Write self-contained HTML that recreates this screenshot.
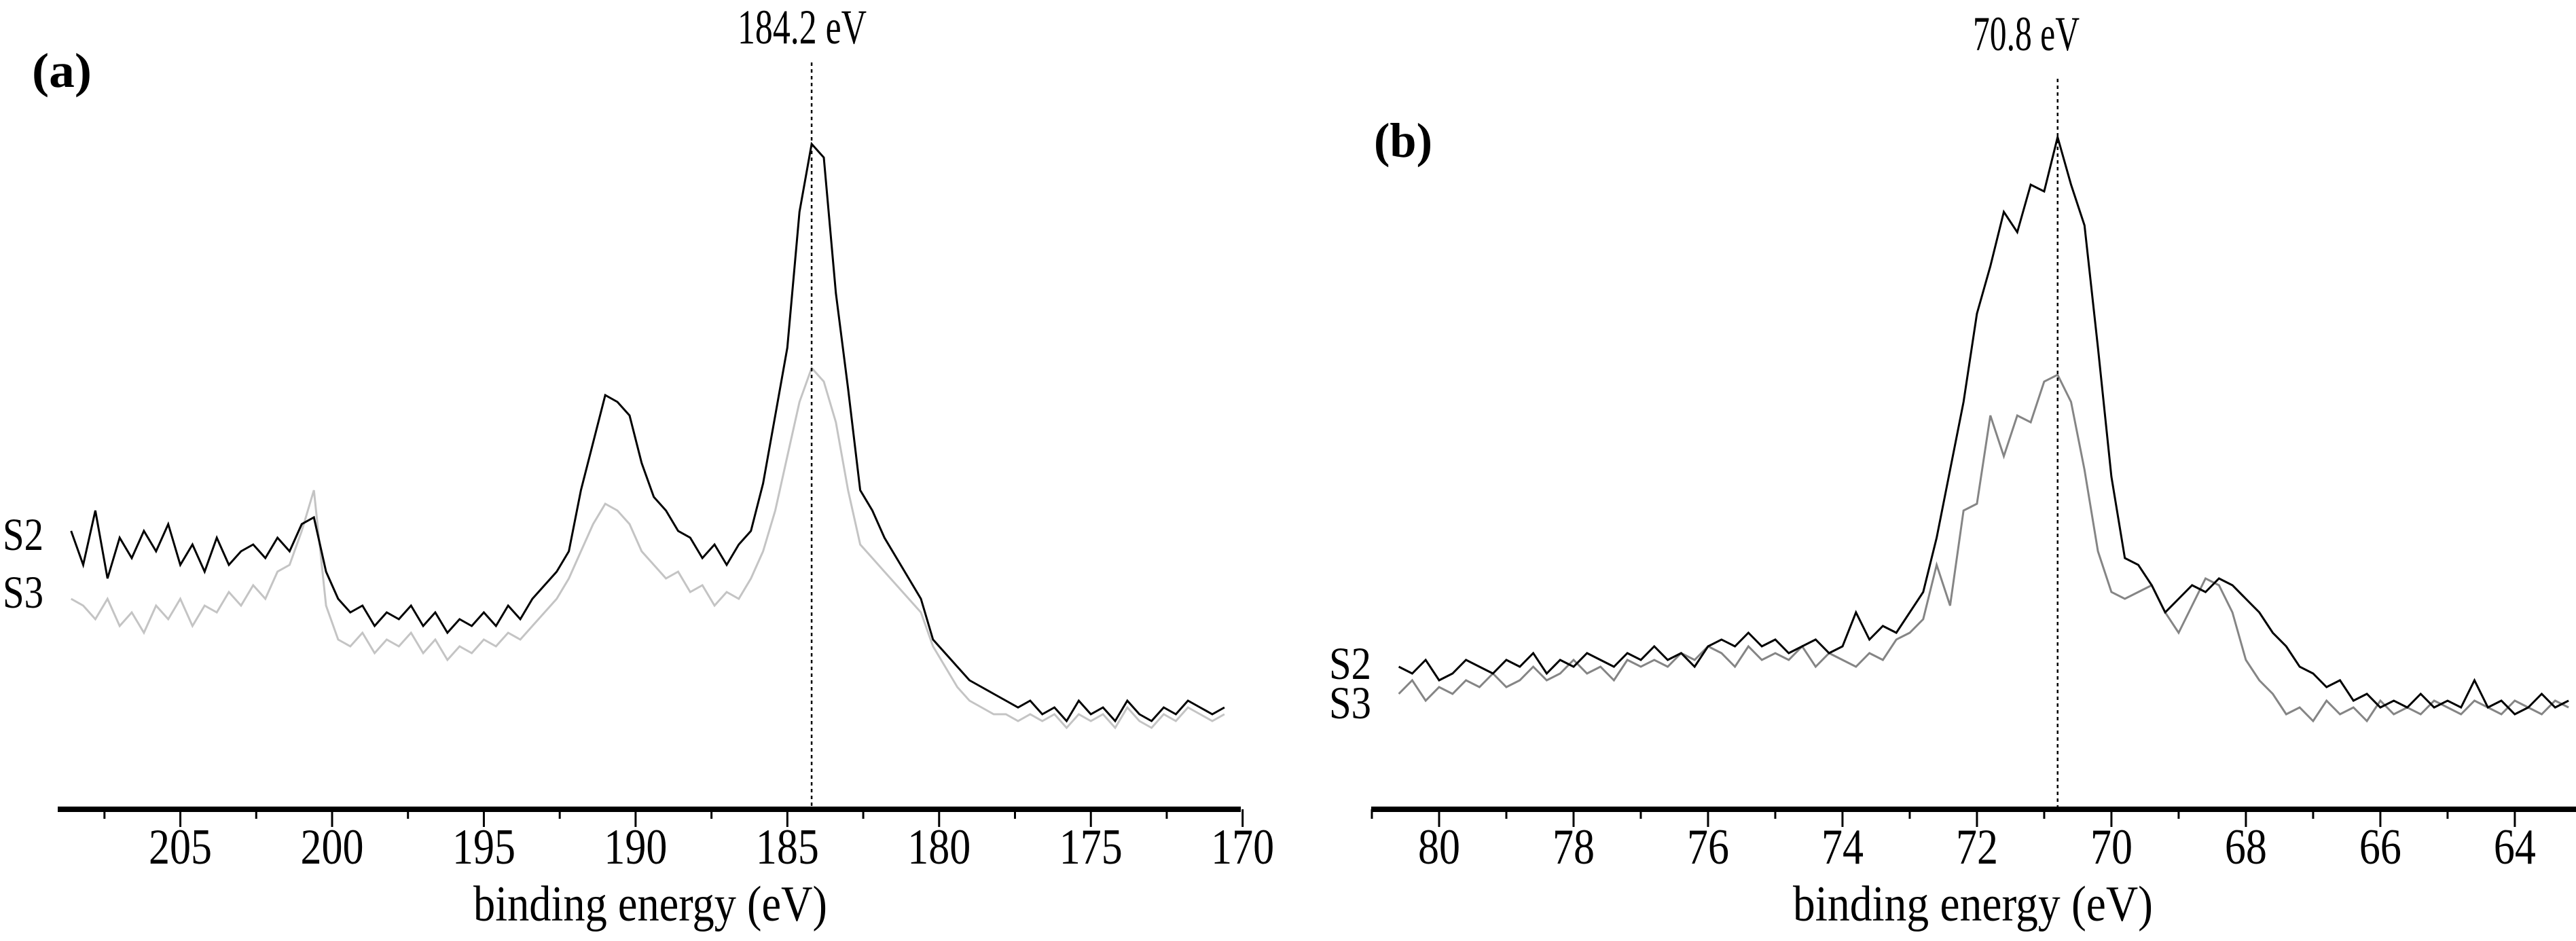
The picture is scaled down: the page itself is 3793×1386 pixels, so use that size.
<!DOCTYPE html>
<html>
<head>
<meta charset="utf-8">
<style>
html,body{margin:0;padding:0;background:#fff;}
svg{display:block;}
text{font-family:"Liberation Serif",serif;fill:#000;}
</style>
</head>
<body>
<svg id="chart" width="3793" height="1386" viewBox="0 0 3793 1386" xmlns="http://www.w3.org/2000/svg">
  <g id="panelA"></g>
  <g id="panelB"></g>
</svg>
<script>
// ---------- Panel (a) data ----------
const aStartEV = 208.6;
const aStepEV = 0.4;
const aS2 = [
41,36,44,34,40,37,41,38,42,36,
39,35,40,36,38,39,37,40,38,42,
43,35,31,29,30,27,29,28,30,27,
29,26,28,27,29,27,30,28,31,33,
35,38,47,54,61,60,58,51,46,44,
41,40,37,39,36,39,41,48,58,68,
88,98,96,76,62,47,44,40,37,34,
31,25,23,21,19,18,17,16,15,16,
14,15,13,16,14,15,13,16,14,13,
15,14,16,15,14,15];
const aS3 = [
31,30,28,31,27,29,26,30,28,31,
27,30,29,32,30,33,31,35,36,41,
47,30,25,24,26,23,25,24,26,23,
25,22,24,23,25,24,26,25,27,29,
31,34,38,42,45,44,42,38,36,34,
35,32,33,30,32,31,34,38,44,52,
60,65,63,57,47,39,37,35,33,31,
29,24,21,18,16,15,14,14,13,14,
13,14,12,14,13,14,12,15,13,12,
14,13,15,14,13,14];
const aTicks = [205,200,195,190,185,180,175,170];
const aMinor = [207.5,202.5,197.5,192.5,187.5,182.5,177.5,172.5];
const aPeak = 184.2;

// ---------- Panel (b) data ----------
const bStartEV = 80.6;
const bStepEV = 0.2;
const bS2 = [
21,20,22,19,20,22,21,20,22,21,
23,20,22,21,23,22,21,23,22,24,
22,23,21,24,25,24,26,24,25,23,
24,25,23,24,29,25,27,26,29,32,
40,50,60,73,80,88,85,92,91,99,
92,86,68,49,37,36,33,29,31,33,
32,34,33,31,29,26,24,21,20,18,
19,16,17,15,16,15,17,15,16,15,
19,15,16,14,15,17,15,16];
const bS3 = [
17,19,16,18,17,19,18,20,18,19,
21,19,20,22,20,21,19,22,21,22,
21,23,22,24,23,21,24,22,23,22,
24,21,23,22,21,23,22,25,26,28,
36,30,44,45,58,52,58,57,63,64,
60,50,38,32,31,32,33,29,26,30,
34,33,29,22,19,17,14,15,13,16,
14,15,13,16,14,15,14,16,15,14,
16,15,14,16,15,14,16,15];
const bTicks = [80,78,76,74,72,70,68,66,64];
const bMinor = [81,79,77,75,73,71,69,67,65,63];
const bPeak = 70.8;

const NS = "http://www.w3.org/2000/svg";
function mk(tag, attrs, parent){
  const e = document.createElementNS(NS, tag);
  for (const k in attrs) e.setAttribute(k, attrs[k]);
  parent.appendChild(e);
  return e;
}
const axisY = 1192;
function yScale(v){ return axisY - v*10; }

function drawPanel(g, cfg){
  const xs = ev => cfg.x0 + (cfg.d0 - ev)/(cfg.d0 - cfg.d1)*(cfg.x1 - cfg.x0);
  cfg.series.forEach(s => {
    const pts = s.vals.map((v,i)=> xs(cfg.start - cfg.step*i).toFixed(1)+","+yScale(v).toFixed(1)).join(" ");
    const pl = mk("polyline",{points:pts,fill:"none",stroke:s.color,"stroke-width":3,"stroke-linejoin":"miter"},g);
    
    
  });
  const px = xs(cfg.peak);
  const pl = mk("line",{x1:px,y1:cfg.peakTop,x2:px,y2:axisY,stroke:"#000","stroke-width":2.5,"stroke-dasharray":"5,5"},g);
  
  
  const ax = mk("line",{x1:cfg.x0,y1:axisY,x2:cfg.x1,y2:axisY,stroke:"#000","stroke-width":8},g);
  
  
  cfg.ticks.forEach(t => {
    const x = xs(t);
    const tl = mk("line",{x1:x,y1:axisY,x2:x,y2:1218,stroke:"#000","stroke-width":3},g);
    
    
    const lab = String(t);
    const tx = mk("text",{x:x,y:1272,"text-anchor":"middle","font-size":74,textLength:lab.length*31,lengthAdjust:"spacingAndGlyphs"},g);
    tx.textContent = lab;
    
    
  });
  cfg.minor.forEach(t => {
    const x = xs(t);
    const tl = mk("line",{x1:x,y1:axisY,x2:x,y2:1206,stroke:"#000","stroke-width":3},g);
    
    
  });
}
function txt(g, s, x, y, size, len, name, bold){
  const t = mk("text",{x:x,y:y,"font-size":size,textLength:len,lengthAdjust:"spacingAndGlyphs"},g);
  if (bold) t.setAttribute("font-weight","bold");
  t.textContent = s;
  
  
  return t;
}

const gA = document.getElementById("panelA");
drawPanel(gA,{x0:85,x1:1827,d0:209.04,d1:170.06,start:aStartEV,step:aStepEV,peak:aPeak,peakTop:92,
  ticks:aTicks,minor:aMinor,
  series:[{vals:aS3,color:"#c4c4c4",name:"series-s3-line"},{vals:aS2,color:"#000",name:"series-s2-line"}]});
txt(gA,"184.2 eV",1086,64,72,190,"peak-label-184-2");
txt(gA,"(a)",47,128,72,88,"panel-label-a",true);
txt(gA,"S2",4,810,68,60,"legend-label-s2");
txt(gA,"S3",4,895,68,60,"legend-label-s3");
txt(gA,"binding energy (eV)",697,1356,74,521,"x-axis-title");

const gB = document.getElementById("panelB");
drawPanel(gB,{x0:2019,x1:3793,d0:81.01,d1:63.09,start:bStartEV,step:bStepEV,peak:bPeak,peakTop:116,
  ticks:bTicks,minor:bMinor,
  series:[{vals:bS3,color:"#858585",name:"series-s3-line"},{vals:bS2,color:"#000",name:"series-s2-line"}]});
txt(gB,"70.8 eV",2905,74,72,157,"peak-label-70-8");
txt(gB,"(b)",2023,231,72,86,"panel-label-b",true);
txt(gB,"S2",1957,1000,68,62,"legend-label-s2");
txt(gB,"S3",1957,1058,68,62,"legend-label-s3");
txt(gB,"binding energy (eV)",2640,1356,74,530,"x-axis-title");
</script>
</body>
</html>
